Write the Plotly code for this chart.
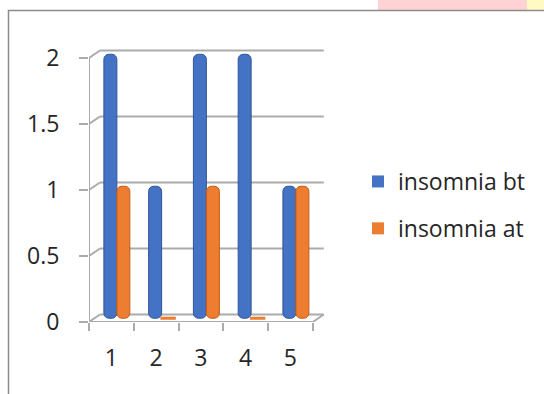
import plotly.graph_objects as go

# Data
categories = [1, 2, 3, 4, 5]
insomnia_bt = [2, 1, 2, 2, 1]
insomnia_at = [1, 0, 1, 0, 1]
series_names = ["insomnia bt", "insomnia at"]
y_ticks = [0, 0.5, 1, 1.5, 2]
y_tick_text = ["0", "0.5", "1", "1.5", "2"]

# Pseudo-3D geometry (in axis units)
DX = 0.245          # depth offset along x
DY = 0.057          # depth offset along y
BAR_W = 0.29
X_MIN, X_MAX = 0.5, 5.5

BLUE = "#4472C4"
ORANGE = "#ED7D31"
GRID = "#ABABAB"
TEXT = "#262626"
FONT = "Open Sans"
FS = 23

# bars stand at mid-depth of the floor
mid_x = DX / 2
mid_y = DY / 2
bt_x = [c + mid_x - BAR_W / 2 for c in categories]
at_x = [c + mid_x + BAR_W / 2 for c in categories]

fig = go.Figure()
fig.add_trace(go.Bar(
    x=bt_x, y=insomnia_bt, base=[mid_y] * len(categories), width=BAR_W,
    name=series_names[0], showlegend=False, hoverinfo="y",
    marker=dict(color=BLUE, line=dict(color="#2F5597", width=1), cornerradius=5),
))
fig.add_trace(go.Bar(
    x=at_x, y=insomnia_at, base=[mid_y] * len(categories), width=BAR_W,
    name=series_names[1], showlegend=False, hoverinfo="y",
    marker=dict(color=ORANGE, line=dict(color="#C55A11", width=1), cornerradius=5),
))
# flat caps where a cylinder has zero height
zero_x = [x for x, v in zip(at_x, insomnia_at) if v == 0]
zero_y = [mid_y + v for v in insomnia_at if v == 0]
fig.add_trace(go.Scatter(
    x=zero_x, y=zero_y, mode="markers", showlegend=False, hoverinfo="skip",
    marker=dict(symbol="line-ew", size=11, line=dict(color=ORANGE, width=3)),
))
# square legend keys
for name, color in zip(series_names, [BLUE, ORANGE]):
    fig.add_trace(go.Bar(x=[None], y=[None], name=name, legendgroup=name,
                         marker=dict(color=color, line=dict(width=0))))

shapes = []
line = dict(color=GRID, width=2)
# back wall gridlines and the short diagonals joining them to the axis
for v in y_ticks:
    shapes.append(dict(type="line", xref="x", yref="y", layer="below",
                       x0=X_MIN + DX, x1=X_MAX + DX, y0=v + DY, y1=v + DY, line=line))
    shapes.append(dict(type="line", xref="x", yref="y", layer="below",
                       x0=X_MIN, x1=X_MIN + DX, y0=v, y1=v + DY, line=line))
# front edge of the floor, right-hand floor edge and the vertical axis
shapes.append(dict(type="line", xref="x", yref="y", layer="below",
                   x0=X_MIN, x1=X_MAX, y0=0, y1=0, line=line))
shapes.append(dict(type="line", xref="x", yref="y", layer="below",
                   x0=X_MAX, x1=X_MAX + DX, y0=0, y1=DY, line=line))
shapes.append(dict(type="line", xref="x", yref="y", layer="below",
                   x0=X_MIN, x1=X_MIN, y0=0, y1=max(y_ticks), line=line))

# page decoration: tinted strip above the chart frame and the frame itself
PL, PW, PB, PH = 89, 237, 322, 274
def px(v):
    return (v - PL) / PW
def py(v):
    return (PB - v) / PH
shapes.append(dict(type="rect", xref="paper", yref="paper", layer="below",
                   x0=px(378), x1=px(527), y0=py(10), y1=py(0),
                   fillcolor="#FFD3D3", line=dict(width=0)))
shapes.append(dict(type="rect", xref="paper", yref="paper", layer="below",
                   x0=px(527), x1=px(545), y0=py(10), y1=py(0),
                   fillcolor="#FFF9C4", line=dict(width=0)))
shapes.append(dict(type="rect", xref="paper", yref="paper", layer="below",
                   x0=px(8.5), x1=px(560), y0=py(410), y1=py(10.5),
                   fillcolor="rgba(0,0,0,0)", line=dict(color="#8C8C8C", width=1.5)))

fig.update_layout(
    width=544, height=394,
    margin=dict(l=PL, r=544 - PL - PW, t=PB - PH, b=394 - PB),
    paper_bgcolor="white", plot_bgcolor="rgba(0,0,0,0)",
    barmode="overlay",
    showlegend=True,
    legend=dict(x=px(358), y=py(160), xanchor="left", yanchor="top",
                font=dict(family=FONT, size=FS, color=TEXT),
                tracegroupgap=14, itemwidth=30, bgcolor="rgba(0,0,0,0)"),
    shapes=shapes,
    font=dict(family=FONT, size=FS, color=TEXT),
    xaxis=dict(range=[X_MIN, X_MAX + DX + 0.05], tickvals=categories,
               ticktext=[str(c) for c in categories], ticks="",
               showgrid=False, zeroline=False, showline=False,
               ticklabelstandoff=20,
               minor=dict(tickvals=[c - 0.5 for c in categories] + [categories[-1] + 0.5],
                          ticks="outside", ticklen=8, tickwidth=2, tickcolor=GRID,
                          showgrid=False),
               tickfont=dict(family=FONT, size=FS, color=TEXT)),
    yaxis=dict(range=[0, 2.076], tickvals=y_ticks, ticktext=y_tick_text,
               ticks="outside", ticklen=9, tickwidth=2, tickcolor=GRID,
               showgrid=False, zeroline=False, showline=False,
               ticklabelstandoff=15,
               tickfont=dict(family=FONT, size=FS, color=TEXT)),
)

fig.write_html("out.html")
